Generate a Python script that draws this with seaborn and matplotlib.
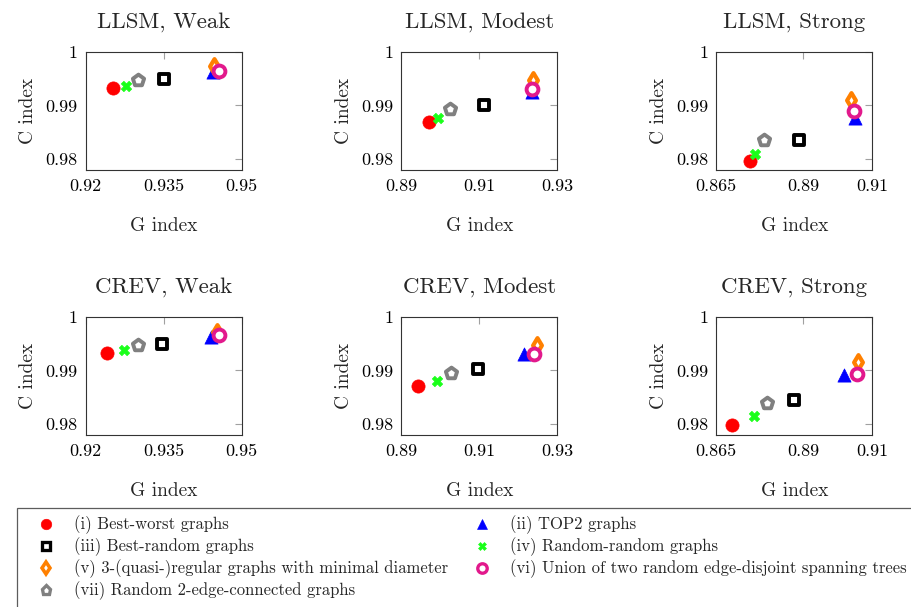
import pandas as pd
import seaborn as sns
import matplotlib.pyplot as plt
from matplotlib.lines import Line2D

# panels: LLSM weak/modest/strong, CREV weak/modest/strong
panel_titles = ["LLSM, Weak", "LLSM, Modest", "LLSM, Strong",
                "CREV, Weak", "CREV, Modest", "CREV, Strong"]
x_ticks = [[0.92, 0.935, 0.95], [0.89, 0.91, 0.93], [0.865, 0.89, 0.91]]
x_tick_labels = [["0.92", "0.935", "0.95"], ["0.89", "0.91", "0.93"], ["0.865", "0.89", "0.91"]]
y_ticks = [0.98, 0.99, 1.0]
y_tick_labels = ["0.98", "0.99", "1"]

# G index / C index per method, one value per panel
g_best_worst = [0.9253, 0.8970, 0.8747, 0.9240, 0.8944, 0.8694]
c_best_worst = [0.9933, 0.9869, 0.9797, 0.9933, 0.9871, 0.9798]
g_top2 = [0.9445, 0.9235, 0.9050, 0.9440, 0.9215, 0.9019]
c_top2 = [0.9962, 0.9925, 0.9877, 0.9963, 0.9930, 0.9891]
g_best_random = [0.9350, 0.9113, 0.8889, 0.9347, 0.9097, 0.8873]
c_best_random = [0.9949, 0.9900, 0.9836, 0.9950, 0.9902, 0.9846]
g_random_random = [0.9277, 0.8994, 0.8761, 0.9274, 0.8991, 0.8758]
c_random_random = [0.9937, 0.9877, 0.9809, 0.9938, 0.9880, 0.9816]
g_regular = [0.9447, 0.9237, 0.9039, 0.9452, 0.9248, 0.9060]
c_regular = [0.9973, 0.9947, 0.9911, 0.9972, 0.9947, 0.9916]
g_union_trees = [0.9457, 0.9235, 0.9048, 0.9456, 0.9239, 0.9055]
c_union_trees = [0.9965, 0.9931, 0.9889, 0.9966, 0.9931, 0.9894]
g_two_edge = [0.9301, 0.9024, 0.8788, 0.9301, 0.9028, 0.8796]
c_two_edge = [0.9947, 0.9894, 0.9835, 0.9947, 0.9896, 0.9839]

methods = ["(i) Best-worst graphs", "(ii) TOP2 graphs", "(iii) Best-random graphs",
           "(iv) Random-random graphs", "(v) 3-(quasi-)regular graphs with minimal diameter",
           "(vi) Union of two random edge-disjoint spanning trees",
           "(vii) Random 2-edge-connected graphs"]
g_values = [g_best_worst, g_top2, g_best_random, g_random_random, g_regular, g_union_trees, g_two_edge]
c_values = [c_best_worst, c_top2, c_best_random, c_random_random, c_regular, c_union_trees, c_two_edge]

# marker, face, edge, size (pt), edge width
styles = {
    methods[0]: ("o", "#ff0000", "#ff0000", 9.5, 0.5),
    methods[1]: ("^", "#0000ff", "#0000ff", 9.5, 0.5),
    methods[2]: ("s", "white", "black", 7.5, 2.8),
    methods[3]: ("X", "#1aff1a", "#1aff1a", 7.5, 0.5),
    methods[4]: ("d", "white", "#ff8000", 7.5, 3.0),
    methods[5]: ("o", "white", "#e2198c", 8.5, 2.8),
    methods[6]: ("p", "white", "#808080", 8.5, 2.8),
}

rows = []
for m, gs, cs in zip(methods, g_values, c_values):
    for p, (g, c) in enumerate(zip(gs, cs)):
        rows.append({"panel": p, "method": m, "G": g, "C": c})
df = pd.DataFrame(rows)

sns.set_style("white")
plt.rcParams["font.family"] = ["cmr10", "DejaVu Serif"]
plt.rcParams["mathtext.fontset"] = "cm"
plt.rcParams["axes.formatter.use_mathtext"] = True

W, H = 911, 607
fig = plt.figure(figsize=(W / 100, H / 100), dpi=100)

lefts = [85.7, 401.3, 716.3]
tops = [51.7, 316.7]
aw, ah = 156, 118.3

for p in range(6):
    r, col = divmod(p, 3)
    ax = fig.add_axes([lefts[col] / W, 1 - (tops[r] + ah) / H, aw / W, ah / H])
    sub = df[df["panel"] == p]
    for m in methods:
        mk, fc, ec, ms, lw = styles[m]
        d = sub[sub["method"] == m]
        sns.scatterplot(data=d, x="G", y="C", ax=ax, marker=mk, s=ms ** 2,
                        color=fc, edgecolor=ec, linewidth=lw, legend=False, zorder=3)
    ax.set_xlim(x_ticks[col][0], x_ticks[col][-1])
    ax.set_ylim(0.978, 1.0)
    ax.set_xticks(x_ticks[col])
    ax.set_xticklabels(x_tick_labels[col])
    ax.set_yticks(y_ticks)
    ax.set_yticklabels(y_tick_labels)
    ax.tick_params(direction="in", length=5, width=0.8, color="#a0a0a0",
                   top=True, right=True, labelsize=13, pad=6, labelcolor="black")
    for s in ax.spines.values():
        s.set_color("#333333")
        s.set_linewidth(0.8)
    ax.set_xlabel("G index", fontsize=14, labelpad=17)
    ax.set_ylabel("C index", fontsize=14, labelpad=6)
    ax.set_title(panel_titles[p], fontsize=16.5, pad=17)

# legend, filled column-wise
order = [0, 2, 4, 6, 1, 3, 5]
handles = []
for i in order:
    mk, fc, ec, ms, lw = styles[methods[i]]
    handles.append(Line2D([], [], linestyle="none", marker=mk, markersize=ms * 0.8,
                          markerfacecolor=fc, markeredgecolor=ec, markeredgewidth=lw * 0.85))
leg = fig.legend(handles, [methods[i] for i in order], ncol=2, loc="upper left",
                 bbox_to_anchor=(16.7 / W, 1 - 606 / H, (914 - 16.7) / W, (606 - 508) / H),
                 mode="expand", borderaxespad=0, fontsize=12, frameon=True, fancybox=False,
                 borderpad=0.45, labelspacing=0.2, handlelength=2.65, handletextpad=0.32)
leg.get_frame().set_edgecolor("#333333")
leg.get_frame().set_linewidth(0.9)

fig.savefig("out.png", dpi=100)
